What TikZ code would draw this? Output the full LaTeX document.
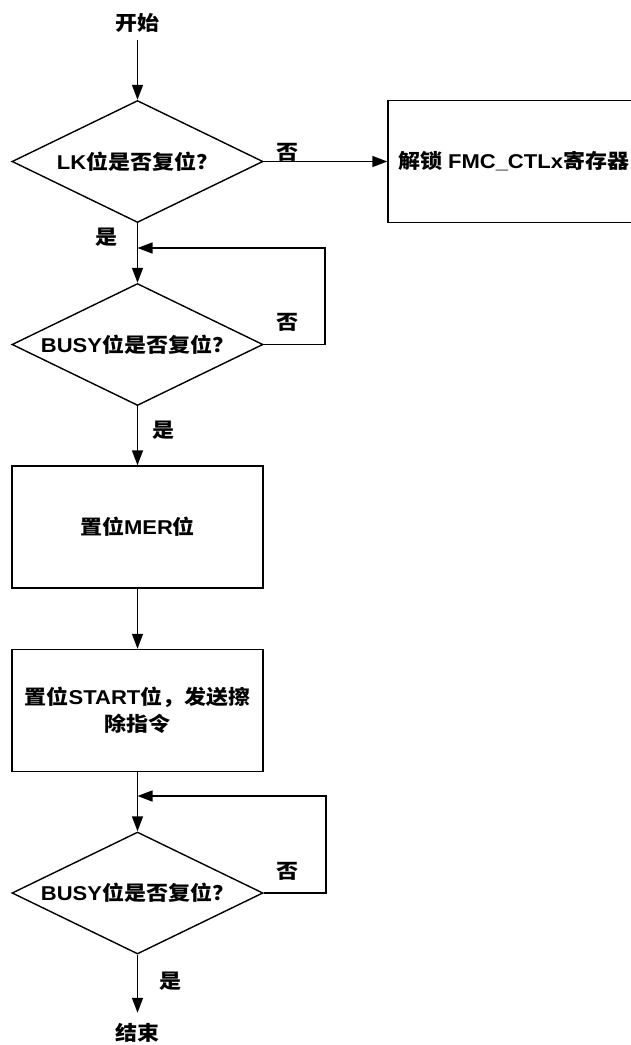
\documentclass[tikz,border=0pt]{standalone}
\usepackage{fontspec}
\setmainfont{Liberation Sans}[FakeStretch=1.1]
\newfontfamily\cjk{Noto Sans CJK SC}[FakeStretch=1.1]
\usetikzlibrary{shapes.geometric,arrows.meta}
\begin{document}
\begin{tikzpicture}[x=1pt,y=-1pt,
  every node/.style={font=\fontsize{20}{27}\selectfont\bfseries},
  dia/.style={draw,line width=1.4pt,diamond,aspect=2.06,minimum width=251pt,minimum height=122pt,inner sep=0pt},
  procbox/.style={draw,line width=1.4pt,rectangle,minimum width=251pt,minimum height=122pt,inner sep=0pt,align=center},
  lbl/.style={inner sep=0pt},
  flow/.style={line width=1.4pt,-{Triangle[length=15pt,width=11pt]}}]
\useasboundingbox (0,0) rectangle (630,1045);
\node[lbl,minimum height=34pt] (start) at (137.5,23) {\cjk 开始};
\node[dia] (d1) at (137.5,161.5) {LK{\cjk 位是否复位？}};
\node[procbox] (unlock) at (513.5,161.5) {{\cjk 解锁} FMC\_CTLx{\cjk 寄存器}};
\node[dia] (d2) at (137.5,344.5) {BUSY{\cjk 位是否复位？}};
\node[procbox] (mer) at (137.5,527) {{\cjk 置位}MER{\cjk 位}};
\node[procbox] (strt) at (137.5,710.5) {{\cjk 置位}START{\cjk 位，发送擦}\\{\cjk 除指令}};
\node[dia] (d3) at (137.5,893) {BUSY{\cjk 位是否复位？}};
\node[lbl,minimum height=40pt] (fin) at (137.5,1033) {\cjk 结束};
\coordinate (j1) at (137.5,248);
\coordinate (c1) at (325,248);
\coordinate (j2) at (137.5,796);
\coordinate (c2) at (326,796);
\node[lbl] (n1) at (287,152) {\cjk 否};
\node[lbl] (y1) at (106,237) {\cjk 是};
\node[lbl] (n2) at (287,322) {\cjk 否};
\node[lbl] (y2) at (163,430) {\cjk 是};
\node[lbl] (n3) at (287,871) {\cjk 否};
\node[lbl] (y3) at (170,981) {\cjk 是};
\draw[flow] (start.south) -- (d1.north);
\draw[flow] (d1.east) -- (unlock.west);
\draw[flow] (d1.south) -- (d2.north);
\draw[flow] (d2.east) -| (c1) -- (j1);
\draw[flow] (d2.south) -- (mer.north);
\draw[flow] (mer.south) -- (strt.north);
\draw[flow] (strt.south) -- (d3.north);
\draw[flow] (d3.east) -| (c2) -- (j2);
\draw[flow] (d3.south) -- (fin.north);
\end{tikzpicture}
\end{document}
